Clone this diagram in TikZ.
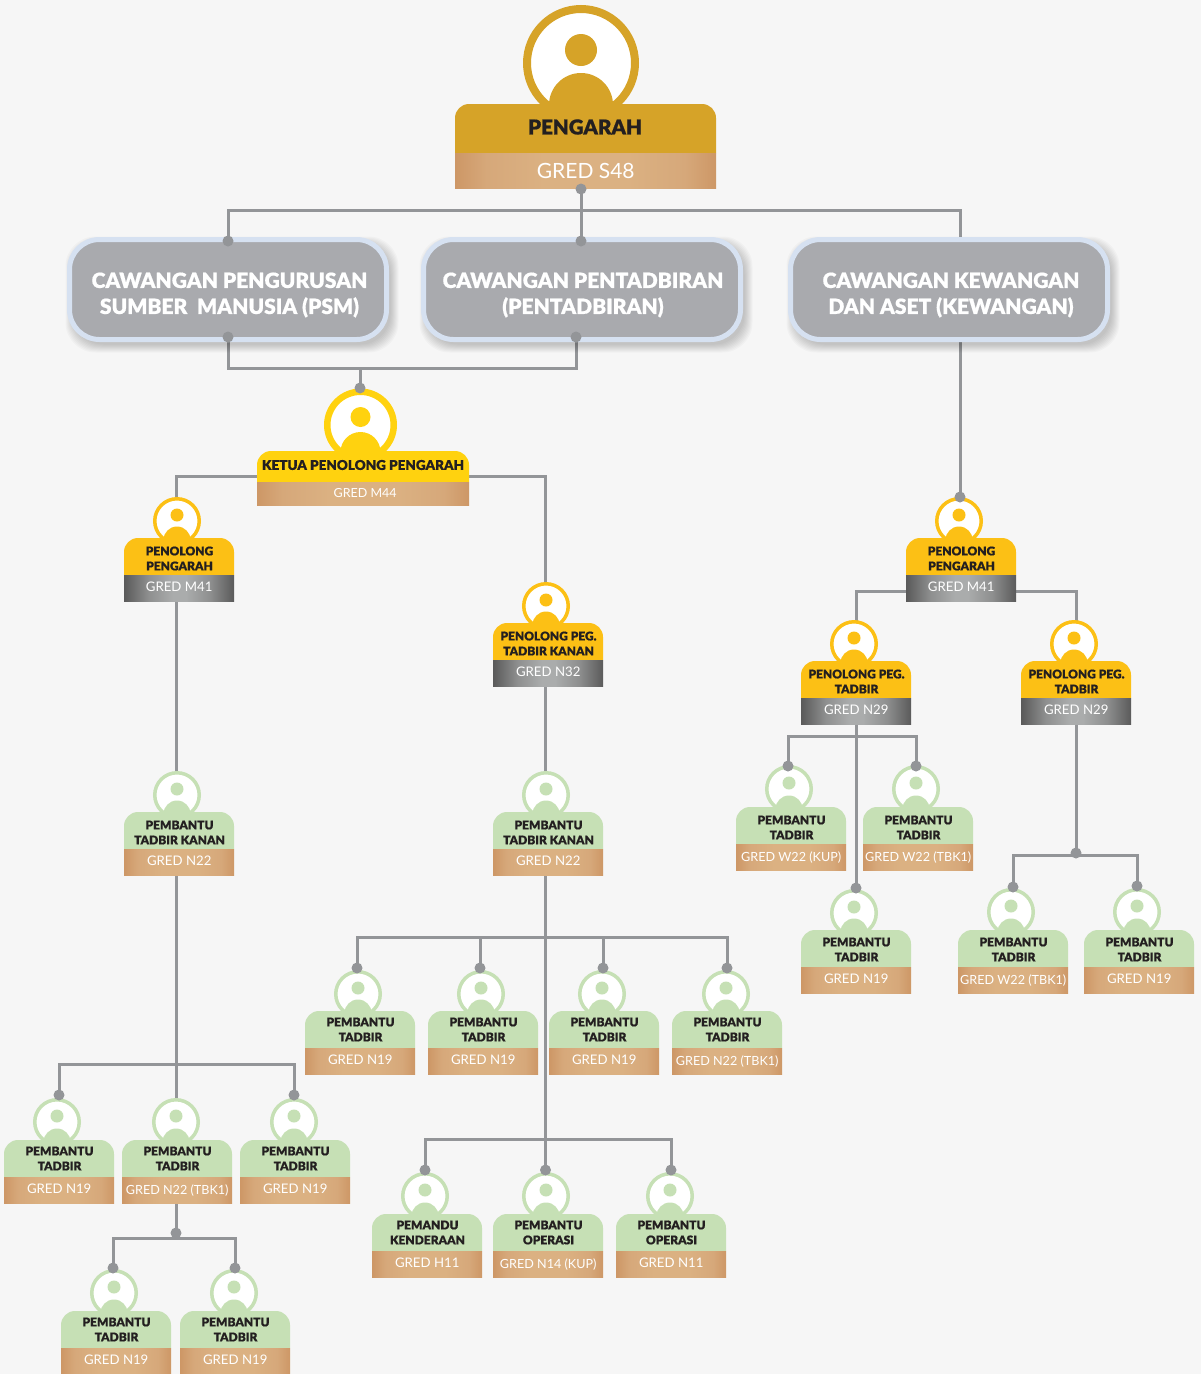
\documentclass[tikz,border=0pt]{standalone}
\usepackage{fontspec}
\setmainfont{Lato}
\newfontfamily\heavyfont{Lato Black}[RawFeature={embolden=0.7}]
\usetikzlibrary{backgrounds}
\definecolor{pagebg}{HTML}{F6F6F6}
\definecolor{linegrey}{HTML}{939598}
\definecolor{gold}{HTML}{D6A328}
\definecolor{yel}{HTML}{FFD20F}
\definecolor{amber}{HTML}{FCC015}
\definecolor{grn}{HTML}{C6E0B5}
\definecolor{boxgrey}{HTML}{A9AAAE}
\definecolor{boxedge}{HTML}{D6E1F1}
\definecolor{titletext}{HTML}{231F20}
\definecolor{cuA}{HTML}{CD9766}
\definecolor{cuB}{HTML}{D6A87A}
\definecolor{cuC}{HTML}{DBB182}
\definecolor{grA}{HTML}{5A5A5A}
\definecolor{grB}{HTML}{8E8F8F}
\definecolor{grC}{HTML}{AAACAC}
\pgfdeclarehorizontalshading{copper}{100bp}{color(0bp)=(cuA); color(25bp)=(cuA); color(31bp)=(cuB); color(42bp)=(cuC); color(58bp)=(cuC); color(69bp)=(cuB); color(75bp)=(cuA); color(100bp)=(cuA)}
\pgfdeclarehorizontalshading{steel}{100bp}{color(0bp)=(grA); color(25bp)=(grA); color(36bp)=(grB); color(47bp)=(grC); color(53bp)=(grC); color(64bp)=(grB); color(75bp)=(grA); color(100bp)=(grA)}
\pgfdeclarelayer{bgl}
\pgfdeclarelayer{conl}
\pgfsetlayers{bgl,conl,main}
\tikzset{
  conn/.style={draw=linegrey,line width=3pt},
  dot/.style={circle,fill=linegrey,inner sep=0pt,minimum size=11pt},
  ring/.style={circle,fill=white,inner sep=0pt},
  titlelab/.style={text=titletext,align=center,inner sep=0pt},
  gredlab/.style={text=white,inner sep=0pt,anchor=north west,shading=#1,shading angle=0},
  branchbox/.style={draw=boxedge,line width=5pt,fill=boxgrey,rounded corners=30pt,minimum width=317pt,minimum height=100pt,inner sep=0pt},
  branchlab/.style={text=white,align=center,inner sep=0pt,font=\heavyfont\fontsize{21}{26}\selectfont},
}
\newcommand{\smgred}[1]{\fontsize{12.6}{14}\selectfont #1}
\def\tdy{0}
% id, left, top, bandtop, bandheight, width, header colour, band shading, gred text
\newcommand{\cardbody}[9]{%
  \fill[#7] (#2,#4) -- (#2,#3+14) arc[start angle=180,end angle=90,radius=14pt] -- (#2+#6-14,#3) arc[start angle=90,end angle=0,radius=14pt] -- (#2+#6,#4) -- cycle;
  \node[gredlab=#8,minimum width=#6 pt,minimum height=#5 pt] (#1-b) at (#2,#4) {#9};
}
% id, cx, cy, outer r, ring, head dy, head r, body r, colour
\newcommand{\personicon}[9]{%
  \node[ring,draw=#9,line width=#5pt,minimum size={2*#4*1pt-#5*1pt}] (#1-c) at (#2,#3) {};
  \fill[#9] (#2,#3+#6) circle[radius=#7pt];
  \fill[#9] (#2-#8,\bodyy) arc[start angle=180,end angle=0,radius=#8pt] -- cycle;
}
% id, left, top, cx, cy, colour, shading, title, gred
\newcommand{\stdcard}[9]{%
  \def\bodyy{#3+2}%
  \personicon{#1}{#4}{#5}{24}{3.5}{-6}{6.5}{13.5}{#6}%
  \cardbody{#1}{#2}{#3}{#3+37}{26.5}{110}{#6}{#7}{\raisebox{2.5pt}{\fontsize{13.2}{15}\selectfont #9}}%
  \node[titlelab,font=\heavyfont\fontsize{12}{15}\selectfont] (#1-t) at (#2+55.5,#3+20.5+\tdy) {#8};
}
\begin{document}
\begin{tikzpicture}[x=1pt,y=-1pt]
\useasboundingbox (0,0) rectangle (1201,1374);
\begin{pgfonlayer}{bgl}
\fill[pagebg] (0,0) rectangle (1201,1374);
\end{pgfonlayer}

% branch shadows
\foreach \bx in {69.5,423.5,790.5}{
  \foreach \gr in {8,7,6,5,4,3,2,1,0}{
    \fill[black,opacity=0.022,rounded corners=30pt] (\bx+4-\gr,239.5+5-\gr) rectangle (\bx+317+4+\gr,339.5+5+\gr);
  }
}
\node[branchbox] (psm) at (228,289.5) {};
\node[branchbox] (pen) at (582,289.5) {};
\node[branchbox] (kew) at (949,289.5) {};
\node[branchlab] (psm-t) at (229.5,295) {CAWANGAN PENGURUSAN\\SUMBER\ \ MANUSIA (PSM)};
\node[branchlab] (pen-t) at (583,295) {CAWANGAN PENTADBIRAN\\(PENTADBIRAN)};
\node[branchlab] (kew-t) at (951,295) {CAWANGAN KEWANGAN\\DAN ASET (KEWANGAN)};

% Pengarah
\def\bodyy{105}
\personicon{peng}{581}{63}{58}{8}{-13}{16}{32}{gold}
\cardbody{peng}{455}{104}{153}{35}{261}{gold}{copper}{\raisebox{-5pt}{\fontsize{21}{22}\selectfont GRED S48}}
\node[titlelab,font=\heavyfont\fontsize{20.5}{22}\selectfont] (peng-t) at (585,127) {PENGARAH};

% Ketua
\def\bodyy{452}
\personicon{ket}{360.5}{425}{36.5}{6.5}{-8}{10}{20}{yel}
\cardbody{ket}{257}{451}{482}{23}{212}{yel}{copper}{\hspace*{4pt}\raisebox{1pt}{\fontsize{12.5}{14}\selectfont GRED M44}}
\node[titlelab,font=\heavyfont\fontsize{13.5}{15}\selectfont] (ket-t) at (363,465) {KETUA PENOLONG PENGARAH};

\stdcard{pa}{124}{538}{177}{521}{amber}{steel}{PENOLONG\\PENGARAH}{GRED M41}
\stdcard{pk}{493}{623}{546}{606}{amber}{steel}{PENOLONG PEG.\\TADBIR KANAN}{GRED N32}
\stdcard{pb}{906}{538}{959}{521}{amber}{steel}{PENOLONG\\PENGARAH}{GRED M41}
\stdcard{tl}{801}{661}{854}{644}{amber}{steel}{PENOLONG PEG.\\TADBIR}{GRED N29}
\stdcard{tr}{1021}{661}{1074}{644}{amber}{steel}{PENOLONG PEG.\\TADBIR}{GRED N29}
\stdcard{kl}{124}{812}{177}{795}{grn}{copper}{PEMBANTU\\TADBIR KANAN}{GRED N22}
\stdcard{km}{493}{812}{546}{795}{grn}{copper}{PEMBANTU\\TADBIR KANAN}{GRED N22}
\stdcard{wa}{736}{807}{789}{789}{grn}{copper}{PEMBANTU\\TADBIR}{\smgred{GRED W22 (KUP)}}
\stdcard{wb}{863}{807}{916}{789}{grn}{copper}{PEMBANTU\\TADBIR}{\smgred{GRED W22 (TBK1)}}
\def\tdy{-1}
\stdcard{wc}{801}{930}{854}{913}{grn}{copper}{PEMBANTU\\TADBIR}{GRED N19}
\stdcard{wd}{958}{930}{1011}{912}{grn}{copper}{PEMBANTU\\TADBIR}{\smgred{GRED W22 (TBK1)}}
\stdcard{we}{1084}{930}{1137}{912}{grn}{copper}{PEMBANTU\\TADBIR}{GRED N19}
\def\tdy{-2}
\stdcard{ma}{305}{1011}{358}{994}{grn}{copper}{PEMBANTU\\TADBIR}{GRED N19}
\stdcard{mb}{428}{1011}{481}{994}{grn}{copper}{PEMBANTU\\TADBIR}{GRED N19}
\stdcard{mc}{549}{1011}{602}{994}{grn}{copper}{PEMBANTU\\TADBIR}{GRED N19}
\stdcard{md}{672}{1011}{726}{994}{grn}{copper}{PEMBANTU\\TADBIR}{\smgred{GRED N22 (TBK1)}}
\stdcard{la}{4}{1140}{57}{1122}{grn}{copper}{PEMBANTU\\TADBIR}{GRED N19}
\stdcard{lb}{122}{1140}{176}{1122}{grn}{copper}{PEMBANTU\\TADBIR}{\smgred{GRED N22 (TBK1)}}
\stdcard{lc}{240}{1140}{294}{1122}{grn}{copper}{PEMBANTU\\TADBIR}{GRED N19}
\stdcard{na}{372}{1214}{425}{1196}{grn}{copper}{PEMANDU\\KENDERAAN}{GRED H11}
\stdcard{nb}{493}{1214}{546}{1196}{grn}{copper}{PEMBANTU\\OPERASI}{\smgred{GRED N14 (KUP)}}
\stdcard{nc}{616}{1214}{670}{1196}{grn}{copper}{PEMBANTU\\OPERASI}{GRED N11}
\stdcard{oa}{61}{1311}{114}{1293}{grn}{copper}{PEMBANTU\\TADBIR}{GRED N19}
\stdcard{ob}{180}{1311}{234}{1293}{grn}{copper}{PEMBANTU\\TADBIR}{GRED N19}

% dots
\node[dot] (d1) at (581,189) {};
\node[dot] (d2) at (581,241) {};
\node[dot] (d3) at (228,241) {};
\node[dot] (d4) at (228,337) {};
\node[dot] (d5) at (576,337) {};
\node[dot] (d6) at (360,388) {};
\node[dot] (d7) at (960,497) {};
\node[dot] (e1) at (788,766) {};
\node[dot] (e2) at (916,766) {};
\node[dot] (e3) at (856,888) {};
\node[dot] (e4) at (1076,853) {};
\node[dot] (e5) at (1013,887) {};
\node[dot] (e6) at (1137,886) {};
\node[dot] (f1) at (357,968) {};
\node[dot] (f2) at (480,968) {};
\node[dot] (f3) at (603,968) {};
\node[dot] (f4) at (727,968) {};
\node[dot] (g1) at (425,1170) {};
\node[dot] (g2) at (545.5,1170) {};
\node[dot] (g3) at (671,1170) {};
\node[dot] (h1) at (59,1095) {};
\node[dot] (h2) at (294,1095) {};
\node[dot] (i0) at (176,1233) {};
\node[dot] (i1) at (113,1268) {};
\node[dot] (i2) at (235,1268) {};

% junction coordinates
\coordinate (jt) at (960,210);
\coordinate (jm) at (360,368);
\coordinate (ja) at (176.5,476);
\coordinate (jb) at (545.5,476);
\coordinate (jd) at (856,591);
\coordinate (je) at (1076,591);
\coordinate (jf) at (545.5,937);
\coordinate (jg) at (545.5,1139);
\coordinate (jh) at (176,1064);
\coordinate (ji) at (176,1238);
\coordinate (jn) at (856,736);
\coordinate (jo) at (1076,855);

\begin{pgfonlayer}{conl}
% top
\draw[conn] (d1.center) -- (d2.center);
\draw[conn] (d3.center) |- (jt) -- (jt |- kew.north);
% branch joins
\draw[conn] (d4.center) |- (jm) -| (d5.center);
\draw[conn] (jm) -- (d6.center);
\draw[conn] (d7.center |- kew.south) -- (d7.center);
% ketua
\draw[conn] (pa-c.center -| ja) -- (ja) -- (jb) -- (jb |- pk-c.center);
% verticals
\draw[conn] (pa-b.south -| ja) -- (kl-c.center -| ja);
\draw[conn] (pk-b.south -| jb) -- (km-c.center -| jb);
% right block
\draw[conn] (jd |- tl-c.center) -- (jd) -- (je) -- (je |- tr-c.center);
\draw[conn] (e3.center |- tl-b.south) -- (e3.center);
\draw[conn] (e1.center) |- (jn) -| (e2.center);
\draw[conn] (e4.center |- tr-b.south) -- (jo);
\draw[conn] (e5.center) |- (jo) -| (e6.center);
% middle
\draw[conn] (g2.center |- km-b.south) -- (g2.center);
\draw[conn] (f1.center) |- (jf) -| (f4.center);
\draw[conn] (f2.center |- jf) -- (f2.center);
\draw[conn] (f3.center |- jf) -- (f3.center);
\draw[conn] (g1.center) |- (jg) -| (g3.center);
% left
\draw[conn] (lb-c.center |- kl-b.south) -- (lb-c.center);
\draw[conn] (h1.center) |- (jh) -| (h2.center);
\draw[conn] (i0.center |- lb-b.south) -- (i0.center);
\draw[conn] (i1.center) |- (ji) -| (i2.center);
\end{pgfonlayer}
\end{tikzpicture}
\end{document}
